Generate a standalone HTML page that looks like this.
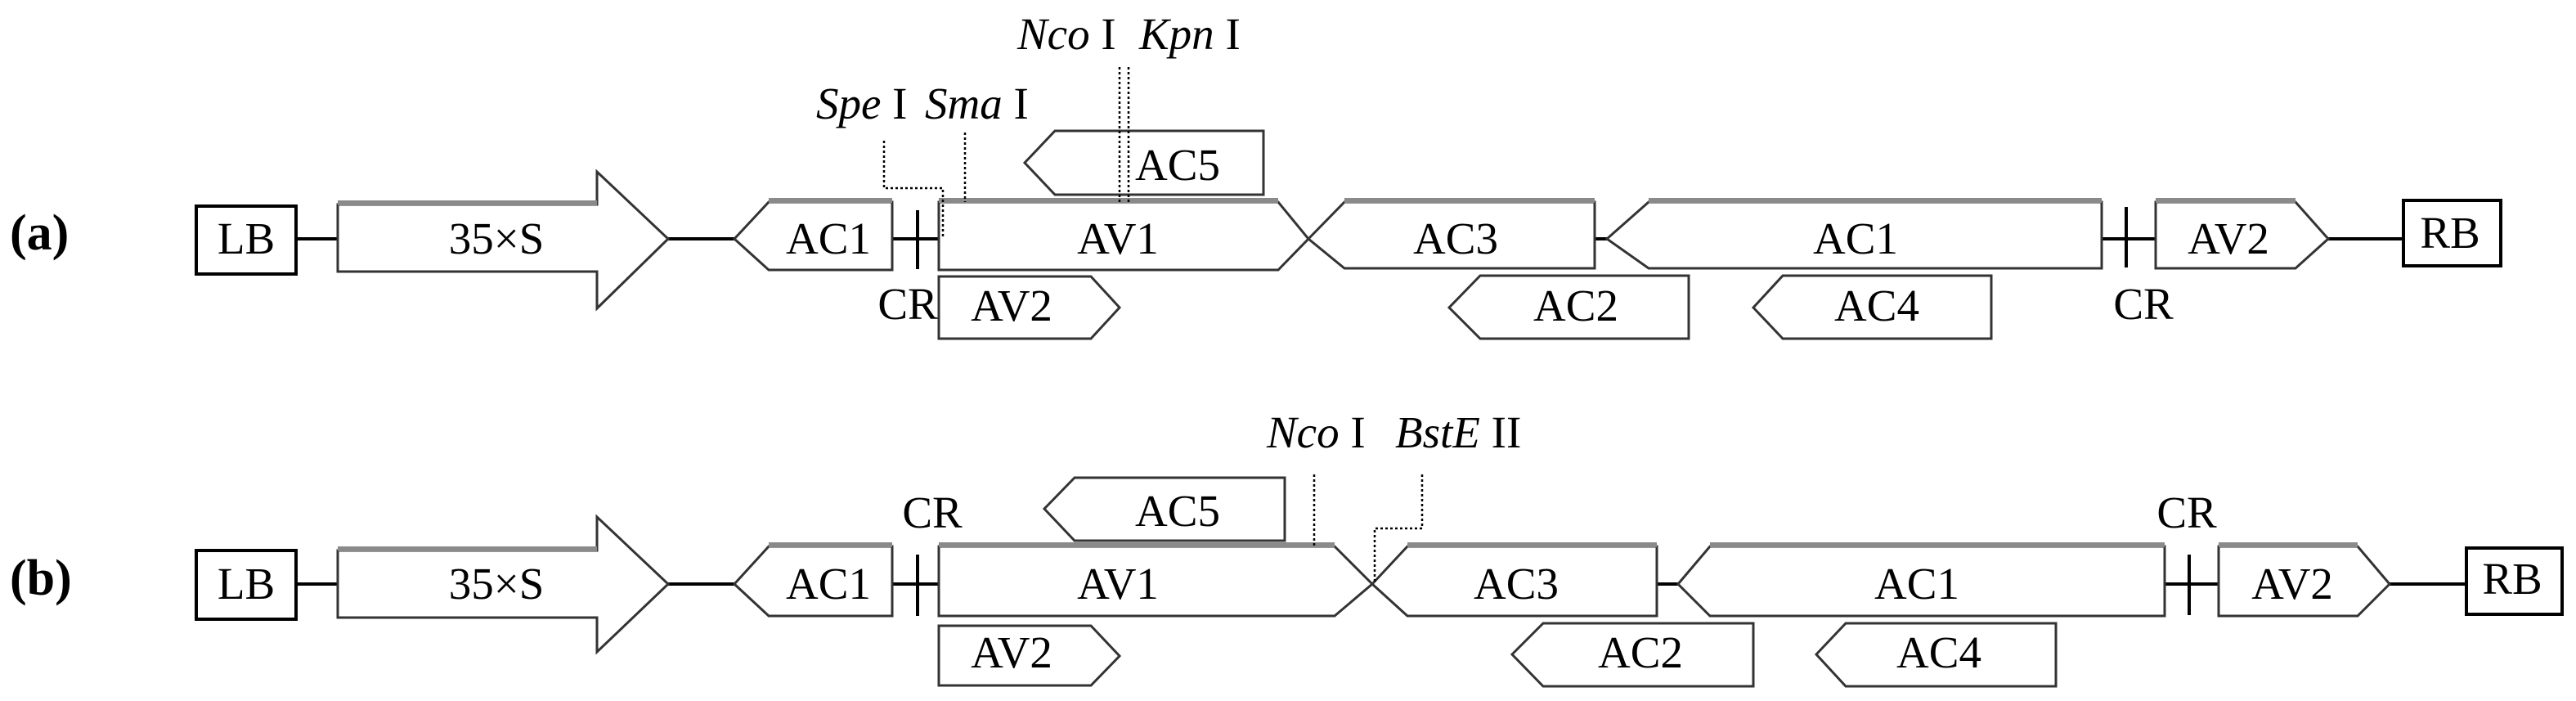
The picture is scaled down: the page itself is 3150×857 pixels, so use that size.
<!DOCTYPE html>
<html><head><meta charset="utf-8"><style>
html,body{margin:0;padding:0;background:#fff;}
svg{display:block;}
text{font-family:"Liberation Serif",serif;font-size:55px;fill:#000;}
.i{font-style:italic;}
.s{fill:#fff;stroke:#333;stroke-width:3;}
.g{fill:none;stroke:#8a8a8a;stroke-width:6;}
.l{stroke:#000;stroke-width:4;}
.d{fill:none;stroke:#000;stroke-width:2.5;stroke-dasharray:3 3;}
</style></head><body>
<svg width="3150" height="857" viewBox="0 0 3150 857" xmlns="http://www.w3.org/2000/svg">
<!-- ROW A -->
<text x="12" y="305" style="font-weight:bold;font-size:62px">(a)</text>
<line class="l" x1="362" y1="292" x2="413" y2="292"/>
<line class="l" x1="817" y1="292" x2="898" y2="292"/>
<line class="l" x1="1091" y1="292" x2="1148" y2="292"/>
<line class="l" x1="1950" y1="292" x2="1965" y2="292"/>
<line class="l" x1="2570" y1="292" x2="2636" y2="292"/>
<line class="l" x1="2847" y1="292" x2="2939" y2="292"/>
<rect x="240" y="252" width="122" height="83" fill="#fff" stroke="#000" stroke-width="4"/>
<text x="301" y="310" text-anchor="middle">LB</text>
<polygon class="s" points="413,250 730,250 730,210 817,292 730,377 730,332 413,332"/>
<line class="g" x1="413" y1="248" x2="730" y2="248"/>
<text x="607" y="310" text-anchor="middle">35×S</text>
<polygon class="s" points="898,292 940,247 1091,247 1091,330 940,330"/>
<line class="g" x1="940" y1="245" x2="1091" y2="245"/>
<text x="1013" y="310" text-anchor="middle">AC1</text>
<line class="l" x1="1122" y1="257" x2="1122" y2="329"/>
<polygon class="s" points="1148,247 1563,247 1600,292 1563,330 1148,330"/>
<line class="g" x1="1148" y1="245" x2="1563" y2="245"/>
<text x="1367" y="310" text-anchor="middle">AV1</text>
<polygon class="s" points="1600,292 1644,247 1950,247 1950,328 1644,328"/>
<line class="g" x1="1644" y1="245" x2="1950" y2="245"/>
<text x="1780" y="310" text-anchor="middle">AC3</text>
<polygon class="s" points="1965,292 2016,247 2570,247 2570,328 2016,328"/>
<line class="g" x1="2016" y1="245" x2="2570" y2="245"/>
<text x="2269" y="310" text-anchor="middle">AC1</text>
<line class="l" x1="2600" y1="253" x2="2600" y2="327"/>
<polygon class="s" points="2636,247 2807,247 2847,292 2807,328 2636,328"/>
<line class="g" x1="2636" y1="245" x2="2807" y2="245"/>
<text x="2725" y="310" text-anchor="middle">AV2</text>
<rect x="2939" y="245" width="119" height="80" fill="#fff" stroke="#000" stroke-width="4"/>
<text x="2996" y="303" text-anchor="middle">RB</text>
<polygon class="s" points="1253,199 1290,160 1545,160 1545,238 1290,238"/>
<text x="1440" y="220" text-anchor="middle">AC5</text>
<polygon class="s" points="1148,338 1334,338 1369,376 1334,414 1148,414"/>
<text x="1237" y="392" text-anchor="middle">AV2</text>
<polygon class="s" points="1772,376 1810,337 2065,337 2065,414 1810,414"/>
<text x="1927" y="392" text-anchor="middle">AC2</text>
<polygon class="s" points="2144,376 2180,337 2435,337 2435,414 2180,414"/>
<text x="2295" y="392" text-anchor="middle">AC4</text>
<text x="1110" y="390" text-anchor="middle">CR</text>
<text x="2621" y="390" text-anchor="middle">CR</text>
<text x="1244" y="60" class="i">Nco<tspan style="font-style:normal"> I</tspan></text>
<text x="1393" y="60" class="i">Kpn<tspan style="font-style:normal"> I</tspan></text>
<text x="998" y="145" class="i">Spe<tspan style="font-style:normal"> I</tspan></text>
<text x="1131" y="145" class="i">Sma<tspan style="font-style:normal"> I</tspan></text>
<line class="d" x1="1369" y1="82" x2="1369" y2="247"/>
<line class="d" x1="1380" y1="82" x2="1380" y2="250"/>
<polyline class="d" points="1081,172 1081,230 1153,230 1153,290"/>
<line class="d" x1="1180" y1="162" x2="1180" y2="247"/>

<!-- ROW B -->
<text x="12" y="727" style="font-weight:bold;font-size:62px">(b)</text>
<line class="l" x1="362" y1="714" x2="413" y2="714"/>
<line class="l" x1="817" y1="714" x2="898" y2="714"/>
<line class="l" x1="1091" y1="714" x2="1148" y2="714"/>
<line class="l" x1="2026" y1="714" x2="2052" y2="714"/>
<line class="l" x1="2647" y1="714" x2="2713" y2="714"/>
<line class="l" x1="2922" y1="714" x2="3016" y2="714"/>
<rect x="240" y="673" width="122" height="84" fill="#fff" stroke="#000" stroke-width="4"/>
<text x="301" y="732" text-anchor="middle">LB</text>
<polygon class="s" points="413,673 730,673 730,632 817,714 730,797 730,755 413,755"/>
<line class="g" x1="413" y1="671" x2="730" y2="671"/>
<text x="607" y="732" text-anchor="middle">35×S</text>
<polygon class="s" points="898,714 940,668 1091,668 1091,753 940,753"/>
<line class="g" x1="940" y1="666" x2="1091" y2="666"/>
<text x="1013" y="732" text-anchor="middle">AC1</text>
<line class="l" x1="1122" y1="678" x2="1122" y2="753"/>
<polygon class="s" points="1148,668 1632,668 1678,714 1632,753 1148,753"/>
<line class="g" x1="1148" y1="666" x2="1632" y2="666"/>
<text x="1367" y="732" text-anchor="middle">AV1</text>
<polygon class="s" points="1678,714 1721,668 2026,668 2026,753 1721,753"/>
<line class="g" x1="1721" y1="666" x2="2026" y2="666"/>
<text x="1854" y="732" text-anchor="middle">AC3</text>
<polygon class="s" points="2052,714 2091,668 2647,668 2647,753 2091,753"/>
<line class="g" x1="2091" y1="666" x2="2647" y2="666"/>
<text x="2344" y="732" text-anchor="middle">AC1</text>
<line class="l" x1="2677" y1="678" x2="2677" y2="752"/>
<polygon class="s" points="2713,668 2883,668 2922,714 2883,753 2713,753"/>
<line class="g" x1="2713" y1="666" x2="2883" y2="666"/>
<text x="2803" y="732" text-anchor="middle">AV2</text>
<rect x="3016" y="670" width="117" height="81" fill="#fff" stroke="#000" stroke-width="4"/>
<text x="3072" y="726" text-anchor="middle">RB</text>
<polygon class="s" points="1277,622 1314,584 1571,584 1571,661 1314,661"/>
<text x="1440" y="643" text-anchor="middle">AC5</text>
<polygon class="s" points="1148,765 1334,765 1369,802 1334,838 1148,838"/>
<text x="1237" y="816" text-anchor="middle">AV2</text>
<polygon class="s" points="1849,800 1887,762 2144,762 2144,839 1887,839"/>
<text x="2006" y="816" text-anchor="middle">AC2</text>
<polygon class="s" points="2221,800 2257,762 2514,762 2514,839 2257,839"/>
<text x="2371" y="816" text-anchor="middle">AC4</text>
<text x="1140" y="645" text-anchor="middle">CR</text>
<text x="2674" y="645" text-anchor="middle">CR</text>
<text x="1549" y="547" class="i">Nco<tspan style="font-style:normal"> I</tspan></text>
<text x="1706" y="547" class="i">BstE<tspan style="font-style:normal"> II</tspan></text>
<line class="d" x1="1607" y1="580" x2="1607" y2="668"/>
<polyline class="d" points="1739,580 1739,646 1681,646 1681,712"/>
</svg>
</body></html>
